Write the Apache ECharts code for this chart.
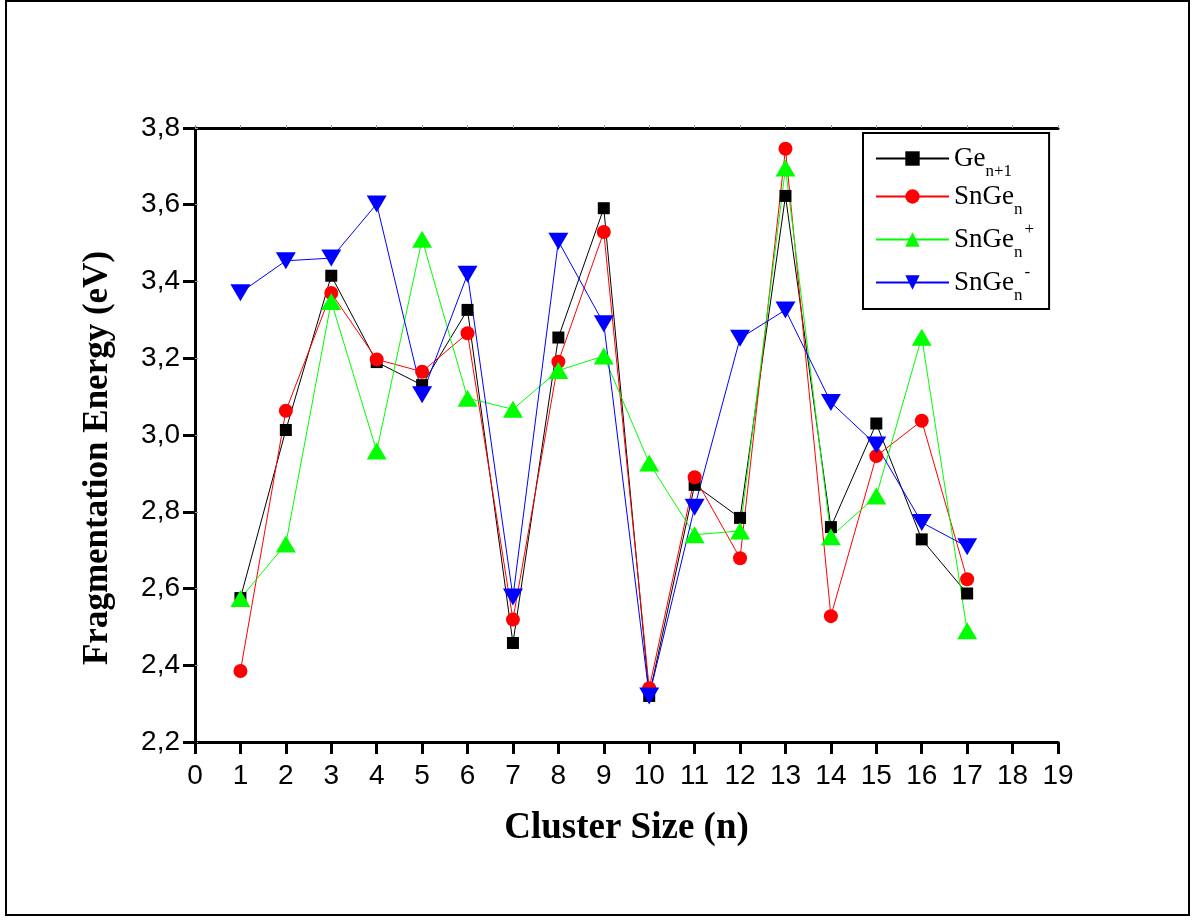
<!DOCTYPE html>
<html>
<head>
<meta charset="utf-8">
<script src="https://cdn.jsdelivr.net/npm/echarts@6/dist/echarts.min.js"></script>
<style>
  html, body { margin: 0; padding: 0; background: #fff; }
  #chart { width: 1203px; height: 924px; }
</style>
</head>
<body>
<div id="chart"></div>
<script>
// Cluster sizes n
const clusterSize = [1, 2, 3, 4, 5, 6, 7, 8, 9, 10, 11, 12, 13, 14, 15, 16, 17];

// Fragmentation energies (eV)
const geN1   = [2.575, 3.013, 3.415, 3.19, 3.13, 3.326, 2.458, 3.254, 3.591, 2.32, 2.87, 2.784, 3.623, 2.76, 3.03, 2.728, 2.587];
const snGe   = [2.385, 3.063, 3.37, 3.197, 3.165, 3.265, 2.519, 3.191, 3.529, 2.34, 2.89, 2.679, 3.746, 2.528, 2.945, 3.037, 2.624];
const snGeP  = [2.574, 2.716, 3.348, 2.958, 3.51, 3.096, 3.067, 3.168, 3.206, 2.927, 2.74, 2.75, 3.696, 2.735, 2.841, 3.255, 2.49];
const snGeM  = [3.371, 3.454, 3.461, 3.602, 3.105, 3.419, 2.578, 3.505, 3.29, 2.32, 2.812, 3.252, 3.326, 3.085, 2.974, 2.772, 2.709];

const xTicks = [0, 19, 1];       // min, max, step
const yTicks = [2.2, 3.8, 0.2];  // min, max, step

const pairs = (ys) => clusterSize.map((n, i) => [n, ys[i]]);

const legendRich = {
  Ge: '{m|Ge}{sub|n+1}',
  SnGe: '{m|SnGe}{sub|n}',
  'SnGe+': '{m|SnGe}{sub|n}{sup|+}',
  'SnGe-': '{m|SnGe}{sub|n}{sup|-}'
};

const serif = 'Liberation Serif, Times New Roman, serif';
const sans = 'Liberation Sans, Arial, sans-serif';

const chart = echarts.init(document.getElementById('chart'), null, { renderer: 'canvas' });

function mkSeries(name, ys, color, symbol, size) {
  return {
    name: name,
    type: 'line',
    data: pairs(ys),
    symbol: symbol,
    symbolSize: size,
    showAllSymbol: true,
    lineStyle: { color: color, width: 1 },
    itemStyle: { color: color },
    emphasis: { disabled: true },
    animation: false
  };
}

chart.setOption({
  animation: false,
  backgroundColor: '#fff',
  grid: { left: 195, right: 145, top: 128, bottom: 182 },
  graphic: [{
    type: 'rect',
    shape: { x: 6, y: 1, width: 1183, height: 914 },
    style: { fill: 'none', stroke: '#000', lineWidth: 2 },
    silent: true
  }],
  legend: {
    orient: 'vertical',
    left: 863,
    top: 133,
    padding: [12, 15, 5, 12],
    borderColor: '#000',
    borderWidth: 2,
    itemWidth: 73,
    itemHeight: 18,
    itemGap: 3,
    selectedMode: false,
    data: ['Ge', 'SnGe', 'SnGe+', 'SnGe-'],
    formatter: (name) => legendRich[name],
    textStyle: {
      fontFamily: serif,
      color: '#000',
      rich: {
        m: { fontFamily: serif, fontSize: 27, color: '#000' },
        sub: { fontFamily: serif, fontSize: 17, color: '#000', padding: [26, 0, 0, 0] },
        sup: { fontFamily: serif, fontSize: 17, color: '#000', padding: [0, 0, 20, 2] }
      }
    }
  },
  xAxis: [{
    type: 'value',
    min: xTicks[0], max: xTicks[1], interval: xTicks[2],
    name: 'Cluster Size (n)',
    nameLocation: 'middle',
    nameGap: 68,
    nameTextStyle: { fontFamily: serif, fontSize: 37, fontWeight: 'bold', color: '#000' },
    axisLine: { lineStyle: { color: '#000', width: 3 } },
    axisTick: { length: 12, lineStyle: { color: '#000', width: 3 } },
    axisLabel: { fontFamily: sans, fontSize: 28, color: '#000', margin: 20 },
    splitLine: { show: false }
  }, {
    type: 'value', position: 'top',
    min: xTicks[0], max: xTicks[1], interval: xTicks[2],
    axisLine: { lineStyle: { color: '#000', width: 3 } },
    axisTick: { inside: false, length: 3, lineStyle: { color: '#999', width: 1 } },
    axisLabel: { show: false },
    splitLine: { show: false }
  }],
  yAxis: [{
    type: 'value',
    min: yTicks[0], max: yTicks[1], interval: yTicks[2],
    name: 'Fragmentation Energy (eV)',
    nameLocation: 'middle',
    nameGap: 80,
    nameTextStyle: {
      fontFamily: serif, fontSize: 35, fontWeight: 'bold', color: '#000',
      padding: [0, 46, 0, 0]
    },
    axisLine: { show: true, lineStyle: { color: '#000', width: 3 } },
    axisTick: { show: true, length: 12, lineStyle: { color: '#000', width: 3 } },
    axisLabel: {
      fontFamily: sans, fontSize: 28, color: '#000', margin: 15,
      formatter: (v) => v.toFixed(1).replace('.', ',')
    },
    splitLine: { show: false }
  }, {
    type: 'value', position: 'right',
    min: yTicks[0], max: yTicks[1], interval: yTicks[2],
    axisLine: { show: true, lineStyle: { color: '#000', width: 3 } },
    axisTick: { show: true, length: 3, lineStyle: { color: '#999', width: 1 } },
    axisLabel: { show: false },
    splitLine: { show: false }
  }],
  series: [
    mkSeries('Ge', geN1, '#000000', 'rect', 12),
    mkSeries('SnGe', snGe, '#ff0000', 'circle', 14),
    mkSeries('SnGe+', snGeP, '#00ff00', 'triangle', [20, 17]),
    mkSeries('SnGe-', snGeM, '#0000ff', 'path://M0,0 L2,0 L1,1.7 Z', [20, 17])
  ]
});
</script>
</body>
</html>
